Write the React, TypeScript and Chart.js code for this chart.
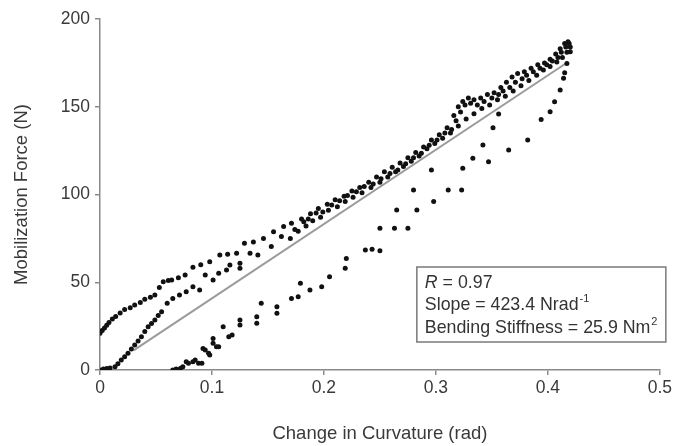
import React, { useEffect, useRef } from 'react';
import { Chart, registerables } from 'chart.js';

Chart.register(...registerables);

// ---- data ----
const upperX = [0.000, 0.002, 0.004, 0.006, 0.008, 0.011, 0.014, 0.018, 0.022, 0.027, 0.031, 0.036, 0.040, 0.045, 0.049, 0.053, 0.0565, 0.061, 0.064, 0.070, 0.076, 0.083, 0.090, 0.098, 0.107, 0.114, 0.122, 0.129, 0.137, 0.146, 0.155, 0.164, 0.171, 0.180, 0.188, 0.195, 0.203, 0.210, 0.218, 0.225, 0.232, 0.240, 0.247, 0.254, 0.261, 0.268, 0.275, 0.282, 0.289, 0.296, 0.303, 0.310, 0.316, 0.320, 0.324, 0.329, 0.334, 0.340, 0.346, 0.352, 0.358, 0.363, 0.368, 0.373, 0.379, 0.385, 0.391, 0.397, 0.402, 0.407, 0.411, 0.415, 0.418];
const upperY = [21, 22.5, 24, 25.5, 27, 29, 30.5, 32.5, 34.5, 35.5, 37, 38.5, 40.3, 41.5, 42.7, 47, 50.3, 51, 51.3, 52.5, 54.1, 58.5, 60, 61.7, 65.5, 66, 66.5, 72.2, 73, 75, 78.8, 81.7, 83.6, 86, 89, 92, 94.5, 97, 99, 102, 104, 107, 110, 113, 115.5, 118, 121, 124, 127, 131, 134, 138, 145, 150, 153, 155, 154, 155, 157, 158, 161, 164, 167, 169, 170, 172, 174, 175, 177, 180, 183, 186, 187];

const loadX = [0.000, 0.003, 0.006, 0.009, 0.0134, 0.016, 0.019, 0.022, 0.025, 0.028, 0.031, 0.034, 0.037, 0.040, 0.043, 0.046, 0.049, 0.052, 0.055, 0.060, 0.065, 0.071, 0.077, 0.083, 0.089, 0.094, 0.101, 0.106, 0.113, 0.116, 0.125, 0.125, 0.134, 0.141, 0.153, 0.162, 0.170, 0.177, 0.184, 0.190, 0.197, 0.204, 0.212, 0.219, 0.226, 0.234, 0.242, 0.250, 0.257, 0.264, 0.271, 0.278, 0.285, 0.292, 0.299, 0.306, 0.313, 0.320, 0.327, 0.334, 0.341, 0.348, 0.355, 0.362, 0.369, 0.376, 0.383, 0.390, 0.396, 0.402, 0.408, 0.413, 0.417, 0.420];
const loadY = [0, 0.5, 0.8, 1.2, 1.9, 3.5, 5.7, 7.5, 9.5, 12, 14.2, 16.5, 19, 22, 24.7, 26.5, 28.5, 31, 33.2, 38, 40.8, 42.7, 44.6, 47.5, 45.6, 54.1, 51.3, 55.1, 57, 59.8, 60.8, 58, 66.5, 65.5, 70.3, 76, 75, 79, 82, 85, 87, 91, 93, 96, 98.5, 101, 104, 107, 110, 113, 116, 119, 122, 126, 129, 132, 135, 139, 143, 146, 149, 151, 154, 156, 159, 162, 165, 168, 171, 173, 175.5, 178, 181, 184];

// extra points inside the dense merged band
const bandX = [0.174, 0.182, 0.186, 0.193, 0.199, 0.207, 0.214, 0.221, 0.229, 0.236, 0.244, 0.251, 0.259, 0.266, 0.273, 0.280, 0.287, 0.294, 0.301, 0.308, 0.314, 0.318, 0.322, 0.326, 0.331, 0.337, 0.343, 0.350, 0.356, 0.360, 0.366, 0.371, 0.377, 0.381, 0.387, 0.393, 0.399, 0.404, 0.409, 0.412, 0.416, 0.419];
const bandY = [80, 84.5, 86, 89.5, 90, 94, 96.5, 99.5, 101.5, 104.5, 106, 109, 112, 114, 117.5, 121, 123.5, 128, 131, 135, 137, 142, 147, 151, 152, 151, 153, 155, 157, 159, 161, 164, 166, 168, 170, 172, 174, 176, 178, 181, 184, 186];

const unloadX = [0.065, 0.068, 0.070, 0.072, 0.074, 0.077, 0.079, 0.083, 0.085, 0.088, 0.091, 0.092, 0.094, 0.097, 0.098, 0.101, 0.101, 0.104, 0.106, 0.110, 0.115, 0.118, 0.125, 0.125, 0.140, 0.140, 0.144, 0.158, 0.158, 0.171, 0.177, 0.179, 0.1875, 0.198, 0.205, 0.219, 0.220, 0.237, 0.243, 0.250, 0.250, 0.263, 0.265, 0.275, 0.283, 0.280, 0.296, 0.298, 0.311, 0.323, 0.324, 0.333, 0.342, 0.347, 0.351, 0.356, 0.365, 0.382, 0.394, 0.402, 0.406, 0.411, 0.414, 0.415, 0.417, 0.420];
const unloadY = [0, 0.5, 0, 1, 1.9, 4.7, 3.8, 4.7, 5.7, 3.8, 3.8, 12.3, 11.4, 9.5, 8.5, 15.2, 18, 13.3, 13.3, 24.7, 19, 19.9, 28.5, 25.6, 30.4, 26.6, 38, 36.1, 32.3, 40.8, 41.8, 49.4, 45.6, 47.5, 53.2, 58, 63.6, 68.4, 68.8, 68, 80.7, 80.7, 91.2, 80.7, 91.2, 102.6, 114, 96, 102.6, 102.6, 114.9, 120.6, 128.2, 118.7, 138, 145.9, 125.4, 131, 142.8, 147.2, 152.9, 159.5, 166.2, 169.4, 174.7, 181.4];

// regression line end points
const fitX = [0.03, 0.418];
const fitY = [11.2, 175.5];

const xTickLabels = ['0', '0.1', '0.2', '0.3', '0.4', '0.5'];
const yTickLabels = ['0', '50', '100', '150', '200'];

const statR = '0.97';
const statSlope = '423.4';
const statStiffness = '25.9';

const xTitle = 'Change in Curvature (rad)';
const yTitle = 'Mobilization Force (N)';

const FONT = '"Liberation Sans", Arial, Helvetica, sans-serif';
const TEXT = '#3a3a3a';
const AXIS = '#8a8a8a';

const zip = (xs: number[], ys: number[]) => xs.map((x, i) => ({ x, y: ys[i] }));

const statsBox = {
  id: 'statsBox',
  afterDraw(chart: any) {
    const { ctx, chartArea } = chart;
    const left = chartArea.right - 243;
    const top = chartArea.bottom - 103;
    const w = 249;
    const h = 75;
    ctx.save();
    ctx.fillStyle = '#ffffff';
    ctx.fillRect(left, top, w, h);
    ctx.strokeStyle = '#7a7a7a';
    ctx.lineWidth = 1.5;
    ctx.strokeRect(left, top, w, h);
    ctx.fillStyle = '#333333';
    ctx.textBaseline = 'middle';
    ctx.textAlign = 'left';
    const tx = left + 8;
    const normal = `17.8px ${FONT}`;
    const small = `11px ${FONT}`;
    // line 1
    let y = top + 16;
    ctx.font = `italic 17.8px ${FONT}`;
    ctx.fillText('R', tx, y);
    let x = tx + ctx.measureText('R').width;
    ctx.font = normal;
    ctx.fillText(` = ${statR}`, x, y);
    // line 2
    y = top + 38;
    const s2 = `Slope = ${statSlope} Nrad`;
    ctx.fillText(s2, tx, y);
    x = tx + ctx.measureText(s2).width + 1;
    ctx.font = small;
    ctx.fillText('-1', x, y - 6);
    // line 3
    y = top + 61;
    ctx.font = normal;
    const s3 = `Bending Stiffness = ${statStiffness} Nm`;
    ctx.fillText(s3, tx, y);
    x = tx + ctx.measureText(s3).width + 1;
    ctx.font = small;
    ctx.fillText('2', x, y - 6);
    ctx.restore();
  },
};

export default function App() {
  const ref = useRef<HTMLCanvasElement | null>(null);

  useEffect(() => {
    if (!ref.current) return;
    const pointStyle = {
      type: 'scatter' as const,
      pointRadius: 2.5,
      pointBackgroundColor: '#111111',
      pointBorderWidth: 0,
      pointBorderColor: '#111111',
      showLine: false,
    };
    const chart = new Chart(ref.current, {
      type: 'scatter',
      data: {
        datasets: [
          { ...pointStyle, label: 'upper', data: zip(upperX, upperY) },
          { ...pointStyle, label: 'loading', data: zip(loadX, loadY) },
          { ...pointStyle, label: 'band', data: zip(bandX, bandY) },
          { ...pointStyle, label: 'unloading', data: zip(unloadX, unloadY) },
          {
            type: 'line' as const,
            label: 'fit',
            data: zip(fitX, fitY),
            borderColor: '#9a9a9a',
            borderWidth: 2,
            pointRadius: 0,
            fill: false,
            tension: 0,
          } as any,
        ],
      },
      options: {
        responsive: false,
        animation: false,
        devicePixelRatio: 1,
        layout: { padding: { left: 0, right: 15, top: 19, bottom: 0 } },
        plugins: {
          legend: { display: false },
          tooltip: { enabled: false },
        },
        scales: {
          x: {
            type: 'linear',
            min: 0,
            max: 0.5,
            afterFit: (s: any) => { s.height = 76; },
            ticks: {
              stepSize: 0.1,
              color: TEXT,
              padding: 3,
              font: { family: FONT, size: 17.5 },
              callback: (_v: any, i: number) => xTickLabels[i],
            },
            grid: { drawOnChartArea: false, drawTicks: true, tickLength: 5, color: AXIS, lineWidth: 1.5 },
            border: { display: true, color: AXIS, width: 1.5 },
            title: {
              display: true,
              text: xTitle,
              color: TEXT,
              font: { family: FONT, size: 18.5 },
              padding: { top: 0, bottom: 1 },
            },
          },
          y: {
            type: 'linear',
            min: 0,
            max: 200,
            afterFit: (s: any) => { s.width = 100; },
            ticks: {
              stepSize: 50,
              color: TEXT,
              padding: 5,
              font: { family: FONT, size: 17.5 },
              callback: (_v: any, i: number) => yTickLabels[i],
            },
            grid: { drawOnChartArea: false, drawTicks: true, tickLength: 5, color: AXIS, lineWidth: 1.5 },
            border: { display: true, color: AXIS, width: 1.5 },
            title: {
              display: true,
              text: yTitle,
              color: TEXT,
              font: { family: FONT, size: 18.5 },
              padding: { top: 11, bottom: 0 },
            },
          },
        },
      },
      plugins: [statsBox],
    });
    return () => chart.destroy();
  }, []);

  return (
    <div style={{ position: 'absolute', left: 0, top: 0, width: 675, height: 446, background: '#fff' }}>
      <canvas ref={ref} width={675} height={446} style={{ width: 675, height: 446, display: 'block' }} />
    </div>
  );
}
